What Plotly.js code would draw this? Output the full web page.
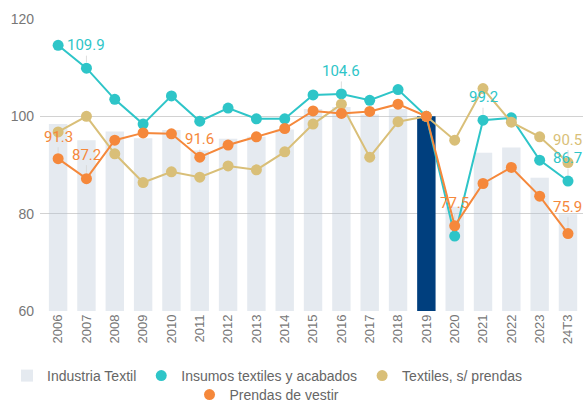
<!DOCTYPE html>
<html>
<head>
<meta charset="utf-8">
<script src="https://cdn.plot.ly/plotly-3.0.1.min.js"></script>
<style>html,body{margin:0;padding:0;background:#fff;}#chart{width:583px;height:405px;}</style>
</head>
<body>
<div id="chart"></div>
<script>
const categories = ["2006","2007","2008","2009","2010","2011","2012","2013","2014","2015","2016","2017","2018","2019","2020","2021","2022","2023","24T3"];
const industriaTextil = [98.4,95.1,96.9,95.5,97.2,93.0,95.4,95.8,97.3,101.5,101.9,100.4,101.5,100.0,81.4,92.5,93.6,87.4,79.9];
const insumos = [114.6,109.9,103.5,98.4,104.2,99.0,101.7,99.5,99.5,104.4,104.6,103.3,105.5,100.0,75.4,99.2,99.7,91.0,86.7];
const textilesSinPrendas = [96.8,100.0,92.3,86.4,88.6,87.5,89.8,89.0,92.7,98.4,102.5,91.6,98.9,100.0,95.1,105.7,98.8,95.8,90.5];
const prendas = [91.3,87.2,95.1,96.6,96.4,91.6,94.1,95.8,97.5,101.1,100.6,101.0,102.5,100.0,77.5,86.2,89.5,83.6,75.9];
const yTicks = [60,80,100,120];

const cCyan = '#2ec5c8', cTan = '#d9bf78', cOrange = '#f5883b';
const barColors = categories.map(c => c === '2019' ? '#003f7e' : 'rgba(175,192,210,0.33)');

// each series: a line trace (no legend) + a marker trace (legend shows only the dot)
const seriesTraces = (name, y, color, legend) => ([
  {type: 'scatter', mode: 'lines', name: name, x: categories, y: y,
   line: {color: color, width: 2}, hoverinfo: 'skip', showlegend: false, legendgroup: name},
  {type: 'scatter', mode: 'markers', name: name, x: categories, y: y,
   marker: {color: color, size: 11}, hoverinfo: 'skip', legend: legend, legendgroup: name}
]);

const data = [
  {type: 'bar', name: 'Industria Textil', x: categories, y: industriaTextil,
   marker: {color: barColors}, hoverinfo: 'skip', legend: 'legend'},
  ...seriesTraces('Insumos textiles y acabados', insumos, cCyan, 'legend'),
  ...seriesTraces('Textiles, s/ prendas', textilesSinPrendas, cTan, 'legend'),
  ...seriesTraces('Prendas de vestir', prendas, cOrange, 'legend2')
];

// labelled points: [series, category, color, offset]
const labels = [
  [insumos, '2007', cCyan, -23],
  [insumos, '2016', cCyan, -23],
  [insumos, '2021', cCyan, -23],
  [insumos, '24T3', cCyan, -23],
  [textilesSinPrendas, '24T3', cTan, -23],
  [prendas, '2006', cOrange, -22],
  [prendas, '2007', cOrange, -24],
  [prendas, '2011', cOrange, -18],
  [prendas, '2020', cOrange, -23],
  [prendas, '24T3', cOrange, -27]
];
const annotations = labels.map(([s, cat, col, off]) => {
  const i = categories.indexOf(cat);
  const v = s[i];
  return {x: i, y: v, xref: 'x', yref: 'y', text: v.toFixed(1),
    showarrow: true, arrowhead: 0, arrowwidth: 1, arrowcolor: 'rgba(215,215,215,0.8)',
    ax: 0, ay: off, standoff: 6,
    font: {family: 'Roboto, sans-serif', size: 15, color: col}};
});

const legendFont = {family: 'Liberation Sans, Arial, sans-serif', size: 14, color: '#666'};
const layout = {
  width: 583, height: 405,
  margin: {l: 40, r: 0, t: 19, b: 94, autoexpand: false},
  paper_bgcolor: '#fff', plot_bgcolor: '#fff',
  bargap: 0.35,
  showlegend: true,
  legend: {orientation: 'h', xref: 'container', yref: 'container', x: 0.458, xanchor: 'center',
    y: 29/405, yanchor: 'middle', font: legendFont, itemwidth: 30, bgcolor: 'rgba(0,0,0,0)'},
  legend2: {orientation: 'h', xref: 'container', yref: 'container', x: 0.458, xanchor: 'center',
    y: 10/405, yanchor: 'middle', font: legendFont, itemwidth: 30, bgcolor: 'rgba(0,0,0,0)'},
  xaxis: {type: 'category', range: [-0.64, 18.53], tickangle: -90, automargin: false,
    tickfont: {family: 'Liberation Sans, Arial, sans-serif', size: 13, color: '#777'},
    showgrid: false, zeroline: false, showline: false, ticks: ''},
  yaxis: {range: [60, 120], tickvals: yTicks, ticktext: yTicks.map(String), automargin: false,
    tickfont: {family: 'Liberation Sans, Arial, sans-serif', size: 14, color: '#777'},
    showgrid: true, gridcolor: '#d2d2d2', gridwidth: 1, zeroline: false, showline: false,
    ticks: '', ticklen: 0, ticklabelstandoff: 5},
  annotations: annotations
};

Plotly.newPlot('chart', data, layout, {displayModeBar: false, staticPlot: true});
</script>
</body>
</html>
